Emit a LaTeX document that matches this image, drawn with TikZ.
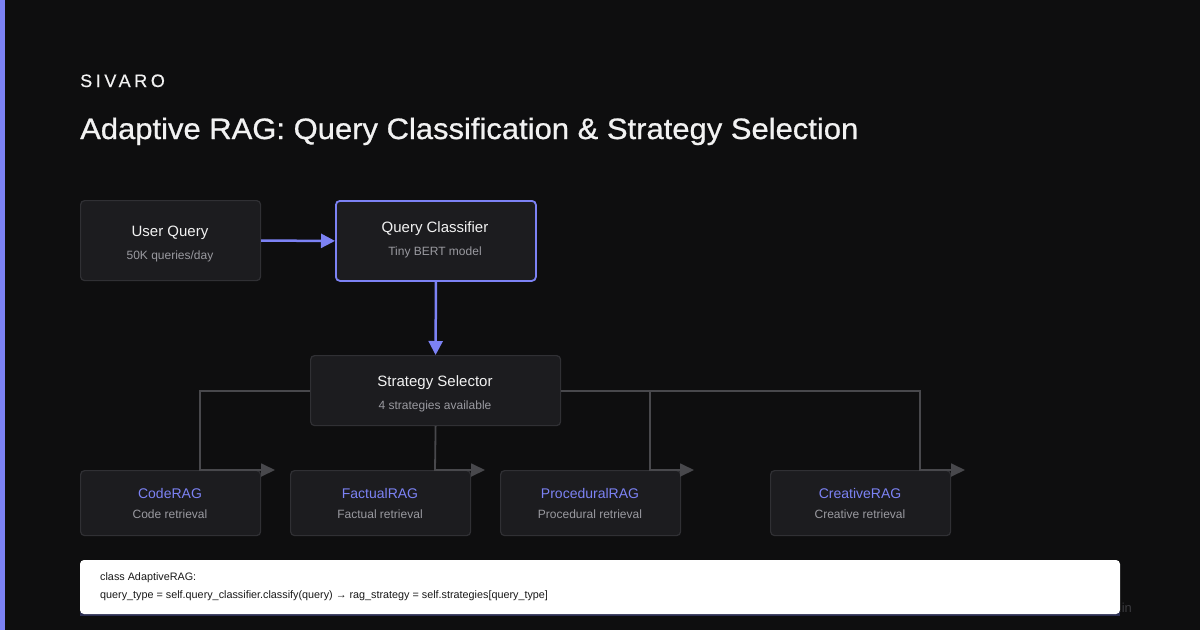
\documentclass[tikz,border=0pt]{standalone}
\usepackage{fontspec}
\setmainfont{Liberation Sans}
\usetikzlibrary{arrows.meta}
\definecolor{bg}{HTML}{0E0E0F}
\definecolor{boxfill}{HTML}{1C1C1F}
\definecolor{boxline}{HTML}{303034}
\definecolor{accent}{HTML}{7C82F4}
\definecolor{glines}{HTML}{48484C}
\definecolor{txt}{HTML}{F2F2F2}
\definecolor{subtxt}{HTML}{9A9AA0}
\definecolor{codeline}{HTML}{2B2E52}
\definecolor{wm}{HTML}{3A3A3E}
\tikzset{
  card/.style={draw=boxline, line width=1.2pt, fill=boxfill, rounded corners=4pt, anchor=north west, inner sep=0pt},
  hcard/.style={card, draw=accent, line width=1.8pt},
  ttl/.style={text=txt, font=\fontsize{15}{18}\selectfont},
  sub/.style={text=subtxt, font=\fontsize{12}{14}\selectfont},
  rname/.style={text=accent, font=\fontsize{14}{17}\selectfont},
  barrow/.style={draw=accent, line width=2.5pt, -{Triangle[length=14pt,width=14pt]}},
  garrow/.style={draw=glines, line width=1.8pt, -{Triangle[length=14pt,width=13pt]}},
  gline/.style={draw=glines, line width=1.8pt},
  codetxt/.style={text=black!90, font=\fontsize{10.8}{12}\selectfont, anchor=west, inner sep=0pt},
}
\begin{document}
\begin{tikzpicture}[x=1pt,y=-1pt]
\fill[bg] (0,0) rectangle (1200,630);
\useasboundingbox (0,0) rectangle (1200,630);
\fill[accent] (0,0) rectangle (5,630);
% header
\node[anchor=base west, inner sep=0pt, text=txt, font=\fontsize{18}{20}\selectfont\addfontfeatures{LetterSpace=20,FakeBold=0.5}] (brand) at (80,87) {SIVARO};
\node[anchor=base west, inner sep=0pt, text=txt, font=\fontsize{29.5}{34}\selectfont\addfontfeatures{FakeStretch=1.05,FakeBold=0.8}] (title) at (80,139) {Adaptive RAG: Query Classification \& Strategy Selection};
% watermark (mostly hidden)
\node[anchor=base west, inner sep=0pt, text=wm, font=\fontsize{13}{15}\selectfont] (wmark) at (1118,612) {.in};
% boxes
\node[card, minimum width=180pt, minimum height=80pt] (user) at (80,200) {};
\node[hcard, minimum width=200pt, minimum height=80pt] (clf) at (335,200) {};
\node[card, minimum width=250pt, minimum height=70pt] (sel) at (310,355) {};
\node[card, minimum width=180pt, minimum height=65pt] (code) at (80,470) {};
\node[card, minimum width=180pt, minimum height=65pt] (fact) at (290,470) {};
\node[card, minimum width=180pt, minimum height=65pt] (proc) at (500,470) {};
\node[card, minimum width=180pt, minimum height=65pt] (crea) at (770,470) {};
% gray connectors
\coordinate (t1) at (275,470);
\coordinate (t2) at (485,470);
\coordinate (t3) at (694,470);
\coordinate (t4) at (965,470);
\coordinate (br) at (650,390);
\draw[garrow] (sel.west) -| (200,470) -- (t1);
\draw[garrow] (sel.south) -- (435,470) -- (t2);
\draw[garrow] (sel.east) -| (920,470) -- (t4);
\draw[garrow] (br) -- (650,470) -- (t3);
% texts
\node[ttl] at (170,233) {User Query};
\node[sub] at (170,256) {50K queries/day};
\node[ttl] at (435,229) {Query Classifier};
\node[sub] at (435,252) {Tiny BERT model};
\node[ttl] at (435,383) {Strategy Selector};
\node[sub] at (435,406) {4 strategies available};
\node[rname] at (170,493) {CodeRAG};
\node[sub] at (170,514) {Code retrieval};
\node[rname] at (380,493) {FactualRAG};
\node[sub] at (380,514) {Factual retrieval};
\node[rname] at (590,493) {ProceduralRAG};
\node[sub] at (590,514) {Procedural retrieval};
\node[rname] at (860,493) {CreativeRAG};
\node[sub] at (860,514) {Creative retrieval};
% blue arrows
\draw[barrow] (user.east) -- (clf.west);
\draw[barrow] (clf.south) -- (sel.north);
% code box
\fill[codeline] (80,612) rectangle (1120,616);
\fill[white, rounded corners=4pt] (80,560) rectangle (1120,614);
\node[codetxt] (c1) at (100,578) {class AdaptiveRAG:};
\node[codetxt] (c2) at (100,596) {query\_type = self.query\_classifier.classify(query) → rag\_strategy = self.strategies[query\_type]};
\end{tikzpicture}
\end{document}
